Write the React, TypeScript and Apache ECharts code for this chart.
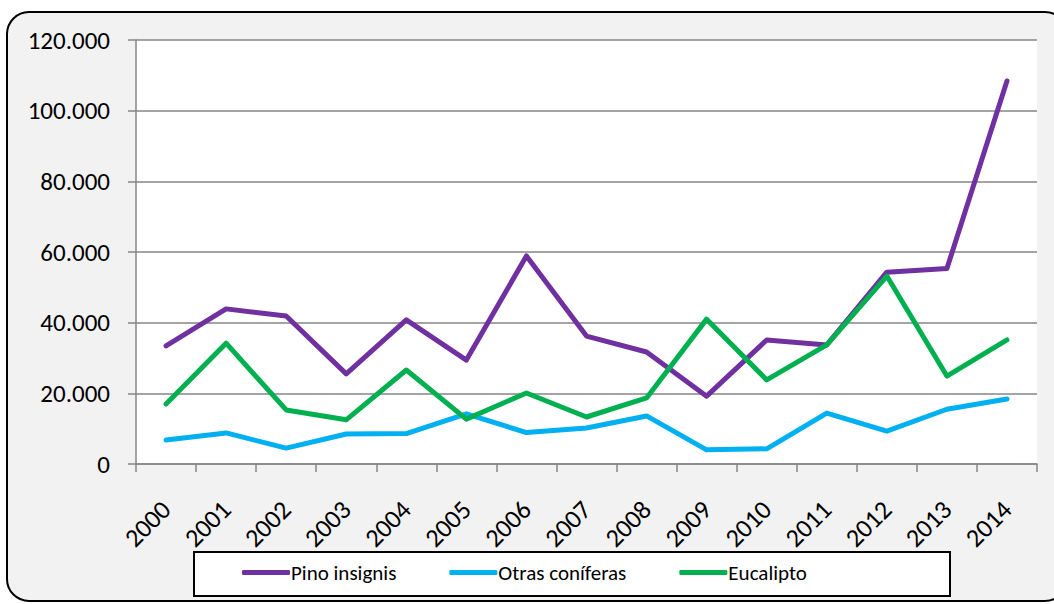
import React, { useEffect, useRef } from "react";
import * as echarts from "echarts";

const years = ["2000","2001","2002","2003","2004","2005","2006","2007","2008","2009","2010","2011","2012","2013","2014"];
const pinoInsignis = [33400, 43900, 41900, 25500, 40800, 29400, 58900, 36200, 31700, 19200, 35100, 33700, 54300, 55300, 108400];
const otrasConiferas = [6800, 8800, 4500, 8500, 8600, 14200, 8900, 10200, 13600, 4000, 4300, 14400, 9300, 15500, 18400];
const eucalipto = [17000, 34200, 15300, 12500, 26600, 12700, 20100, 13300, 18700, 41000, 23800, 33700, 53200, 24900, 35100];
const seriesNames = ["Pino insignis", "Otras coníferas", "Eucalipto"];
const seriesColors = ["#7030A0", "#00B0F0", "#00B050"];

const FONT = "Carlito, Lato, 'Liberation Sans', sans-serif";

export default function App() {
  const ref = useRef<HTMLDivElement>(null);
  useEffect(() => {
    if (!ref.current) return;
    const chart = echarts.init(ref.current, null, { renderer: "svg" });
    const fmt = (v: number) => (v === 0 ? "0" : String(v).replace(/\B(?=(\d{3})+(?!\d))/g, "."));
    const data = [pinoInsignis, otrasConiferas, eucalipto];
    chart.setOption({
      animation: false,
      graphic: [
        {
          type: "rect",
          z: -10,
          shape: { x: 7, y: 12, width: 1060, height: 589, r: 22 },
          style: { fill: "#f2f2f2", stroke: "#000", lineWidth: 2 },
        },
        {
          type: "rect",
          z: -5,
          shape: { x: 194, y: 552, width: 756, height: 44 },
          style: { fill: "#fff", stroke: "#000", lineWidth: 2 },
        },
      ],
      grid: {
        left: 136,
        right: 17,
        top: 40,
        bottom: 140,
        show: true,
        backgroundColor: "#fff",
        borderWidth: 0,
        containLabel: false,
      },
      legend: {
        left: 242,
        top: 562,
        itemWidth: 48,
        itemHeight: 5,
        itemGap: 53,
        icon: "roundRect",
        padding: 0,
        textStyle: { fontFamily: FONT, fontSize: 21, color: "#000", padding: [0, 0, 0, -4] },
        data: seriesNames,
      },
      xAxis: {
        type: "category",
        data: years,
        boundaryGap: true,
        axisLine: { lineStyle: { color: "#868686", width: 1.5 } },
        axisTick: { show: true, length: 8, interval: 0, lineStyle: { color: "#868686", width: 1.5 } },
        axisLabel: { rotate: 45, fontFamily: FONT, fontSize: 26, color: "#000", margin: 41, interval: 0 },
      },
      yAxis: {
        type: "value",
        min: 0,
        max: 120000,
        interval: 20000,
        axisLine: { show: true, lineStyle: { color: "#868686", width: 1.5 } },
        axisTick: { show: true, length: 8, lineStyle: { color: "#868686", width: 1.5 } },
        splitLine: { lineStyle: { color: "#868686", width: 1.5 } },
        axisLabel: { fontFamily: FONT, fontSize: 25, color: "#000", margin: 26, formatter: fmt },
      },
      series: seriesNames.map((name, i) => ({
        name,
        type: "line",
        data: data[i],
        symbol: "none",
        color: seriesColors[i],
        lineStyle: { width: 5, color: seriesColors[i], cap: "round", join: "round" },
      })),
    });
    return () => chart.dispose();
  }, []);
  return <div ref={ref} style={{ width: 1054, height: 604, position: "absolute", left: 0, top: 0 }} />;
}
